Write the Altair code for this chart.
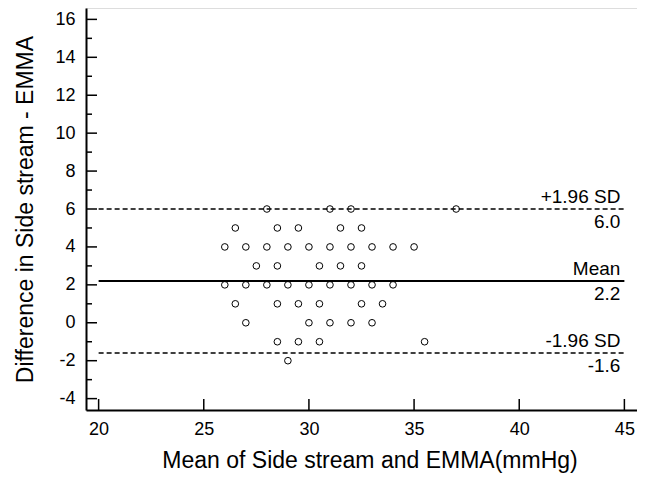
import altair as alt
import pandas as pd

# Bland-Altman points: mean of the two methods (x) and difference (y)
mean_vals = [28, 31, 32, 37,
             26.5, 28.5, 29.5, 31.5, 32.5,
             26, 27, 28, 29, 30, 31, 32, 33, 34, 35,
             27.5, 28.5, 30.5, 31.5, 32.5,
             26, 27, 28, 29, 30, 31, 32, 33, 34,
             26.5, 28.5, 29.5, 30.5, 32.5, 33.5,
             27, 30, 31, 32, 33,
             28.5, 29.5, 30.5, 35.5,
             29]
diff_vals = [6, 6, 6, 6,
             5, 5, 5, 5, 5,
             4, 4, 4, 4, 4, 4, 4, 4, 4, 4,
             3, 3, 3, 3, 3,
             2, 2, 2, 2, 2, 2, 2, 2, 2,
             1, 1, 1, 1, 1, 1,
             0, 0, 0, 0, 0,
             -1, -1, -1, -1,
             -2]

# Reference lines
line_values = [6.0, 2.2, -1.6]
line_names = ["+1.96 SD", "Mean", "-1.96 SD"]
line_value_text = ["6.0", "2.2", "-1.6"]
line_kind = ["sd", "mean", "sd"]
line_start = [20, 20, 20]
line_end = [45, 45, 45]

# Tick values
x_ticks = [20, 25, 30, 35, 40, 45]
y_ticks = [-4, -2, 0, 2, 4, 6, 8, 10, 12, 14, 16]
y_minor = [-3, -1, 1, 3, 5, 7, 9, 11, 13, 15]

X_TITLE = "Mean of Side stream and EMMA(mmHg)"
Y_TITLE = "Difference in Side stream - EMMA"
FONT = "Liberation Sans"
W, H = 551, 402

xscale = alt.Scale(domain=[19.4, 45.6], nice=False, zero=False)
yscale = alt.Scale(domain=[-4.6, 16.6], nice=False, zero=False)


def X(field="x", **kw):
    return alt.X(f"{field}:Q", scale=xscale, title=X_TITLE, **kw)


def Y(field="y", **kw):
    return alt.Y(f"{field}:Q", scale=yscale, title=Y_TITLE, **kw)


pts = pd.DataFrame({"x": mean_vals, "y": diff_vals})
lines = pd.DataFrame({"y": line_values, "name": line_names, "txt": line_value_text,
                      "kind": line_kind, "x": line_start, "x2": line_end})
xt = pd.DataFrame({"x": x_ticks})
yt = pd.DataFrame({"y": y_ticks})
ym = pd.DataFrame({"y": y_minor})

x_axis = alt.Axis(values=x_ticks, ticks=False, grid=False, labelFontSize=18,
                  labelPadding=10, titleFontSize=23, titleFontWeight="normal",
                  titlePadding=11, titleX=W / 2 + 8, domainColor="black", domainWidth=2,
                  labelColor="black", titleColor="black", labelExpr="'' + datum.value")
y_axis = alt.Axis(values=y_ticks, ticks=False, grid=False, labelFontSize=18,
                  labelPadding=11, titleFontSize=23, titleFontWeight="normal",
                  titlePadding=17, domainColor="black", domainWidth=2,
                  labelColor="black", titleColor="black", labelExpr="'' + datum.value")

points = alt.Chart(pts).mark_point(shape="circle", filled=False, size=44,
                                   strokeWidth=1, color="black", opacity=1).encode(
    x=X(axis=x_axis), y=Y(axis=y_axis))

sd_lines = alt.Chart(lines).transform_filter("datum.kind == 'sd'").mark_rule(
    color="black", strokeWidth=1.5, strokeDash=[5, 3]).encode(
    x=X(), x2="x2:Q", y=Y())

mean_line = alt.Chart(lines).transform_filter("datum.kind == 'mean'").mark_rule(
    color="black", strokeWidth=2).encode(x=X(), x2="x2:Q", y=Y())

name_text = alt.Chart(lines).mark_text(align="right", baseline="alphabetic", dx=-4, dy=-6,
                                       fontSize=19, font=FONT, color="black").encode(
    x=X("x2"), y=Y(), text="name:N")

val_text = alt.Chart(lines).mark_text(align="right", baseline="top", dx=-4, dy=4,
                                      fontSize=19, font=FONT, color="black").encode(
    x=X("x2"), y=Y(), text="txt:N")

y_major_ticks = alt.Chart(yt).mark_rule(color="black", strokeWidth=1.5).encode(
    y=Y(), x=alt.value(0), x2=alt.value(11))
y_minor_ticks = alt.Chart(ym).mark_rule(color="black", strokeWidth=1.5).encode(
    y=Y(), x=alt.value(0), x2=alt.value(6))
x_major_ticks = alt.Chart(xt).mark_rule(color="black", strokeWidth=1.5).encode(
    x=X(), y=alt.value(H), y2=alt.value(H - 11))

chart = alt.layer(points, sd_lines, mean_line, name_text, val_text,
                  y_major_ticks, y_minor_ticks, x_major_ticks).properties(
    width=W, height=H,
    padding={"left": 78, "top": 0, "right": 0, "bottom": 67},
    autosize=alt.AutoSizeParams(type="none"),
).configure_view(stroke=None).configure(font=FONT).configure_axis(labelFont=FONT, titleFont=FONT)

chart.save("out.html", embed_options={"renderer": "svg", "actions": False})
